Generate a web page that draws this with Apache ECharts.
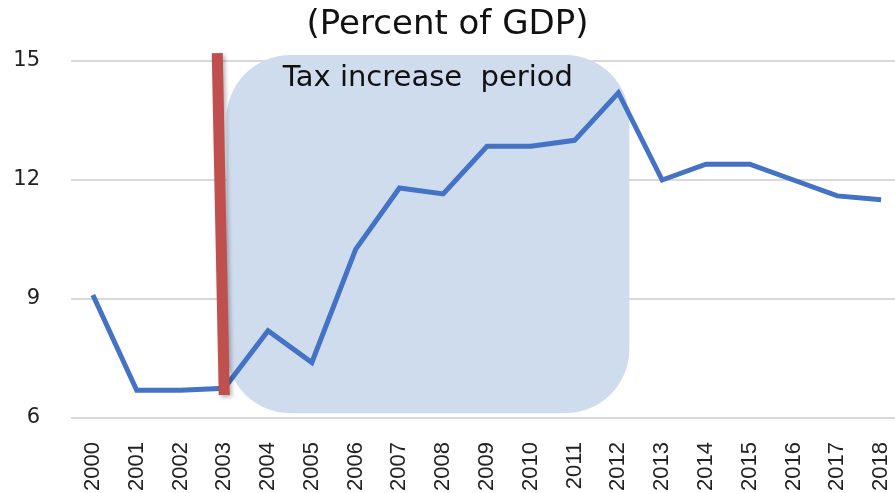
<!DOCTYPE html>
<html><head><meta charset="utf-8">
<script src="https://cdn.jsdelivr.net/npm/echarts@6/dist/echarts.min.js"></script>
<style>html,body{margin:0;padding:0;background:#fff}#c{width:895px;height:493px}</style>
</head><body><div id="c"></div>
<script>
const years = ['2000','2001','2002','2003','2004','2005','2006','2007','2008','2009','2010','2011','2012','2013','2014','2015','2016','2017','2018'];
const taxRevenue = [9.1, 6.7, 6.7, 6.75, 8.2, 7.4, 10.25, 11.8, 11.65, 12.85, 12.85, 13.0, 14.2, 12.0, 12.4, 12.4, 12.0, 11.6, 11.5];
const yTicks = [6, 9, 12, 15];
const titleText = '(Percent of GDP)';
const periodLabel = 'Tax increase  period';
// shaded period: [x start index, y top, x end index, y bottom]
const periodBox = [[3.05, 15.15, 12.25, 6.12]];
// red marker line: [x index top, y top, x index bottom, y bottom]
const markerLine = [[2.84, 15.2, 3.0, 6.58]];

// category coordinate with fractional index
function fracCoord(api, xi, y) {
  const base = Math.floor(xi);
  const p = api.coord([base, y]);
  const band = api.size([1, 0])[0];
  return [p[0] + (xi - base) * band, p[1]];
}

const chart = echarts.init(document.getElementById('c'));
chart.setOption({
  animation: false,
  title: {text: titleText, left: 'center', top: 3, textStyle: {fontFamily: 'DejaVu Sans', fontWeight: 'normal', fontSize: 34, color: '#111'}},
  grid: {left: 71, top: 61, width: 832, height: 357, outerBoundsMode: 'none', containLabel: false},
  xAxis: {
    type: 'category', data: years, boundaryGap: true,
    axisLine: {show: false}, axisTick: {show: false},
    axisLabel: {rotate: 90, margin: 24, fontFamily: 'Liberation Sans', fontSize: 22, color: '#222'}
  },
  yAxis: {
    type: 'value', min: yTicks[0], max: yTicks[yTicks.length - 1], interval: 3,
    axisLabel: {margin: 31, padding: [6, 0, 0, 0], fontFamily: 'DejaVu Sans', fontSize: 21, color: '#222'},
    splitLine: {lineStyle: {color: '#d9d9d9', width: 2}}
  },
  series: [
    {
      type: 'custom', z: 1, silent: true, clip: false,
      data: periodBox,
      renderItem: function (params, api) {
        const p1 = fracCoord(api, api.value(0), api.value(1));
        const p2 = fracCoord(api, api.value(2), api.value(3));
        return {
          type: 'group',
          children: [
            {type: 'rect', shape: {x: p1[0], y: p1[1], width: p2[0] - p1[0], height: p2[1] - p1[1], r: [64, 64, 64, 64]},
             style: {fill: '#cfdcee'}},
            {type: 'text', style: {text: periodLabel, x: (p1[0] + p2[0]) / 2, y: p1[1] + 23, align: 'center', verticalAlign: 'middle',
             fontFamily: 'DejaVu Sans', fontSize: 29, fill: '#111'}}
          ]
        };
      }
    },
    {
      type: 'line', z: 3, data: taxRevenue, symbol: 'none',
      lineStyle: {color: '#4472c4', width: 5, join: 'miter'}
    },
    {
      type: 'custom', z: 4, silent: true, clip: false,
      data: markerLine,
      renderItem: function (params, api) {
        const a = fracCoord(api, api.value(0), api.value(1));
        const b = fracCoord(api, api.value(2), api.value(3));
        return {
          type: 'line', shape: {x1: a[0], y1: a[1], x2: b[0], y2: b[1]},
          style: {stroke: '#c0504d', lineWidth: 11, shadowColor: 'rgba(0,0,0,0.3)', shadowBlur: 4, shadowOffsetX: 2, shadowOffsetY: 2}
        };
      }
    }
  ]
});
</script></body></html>
